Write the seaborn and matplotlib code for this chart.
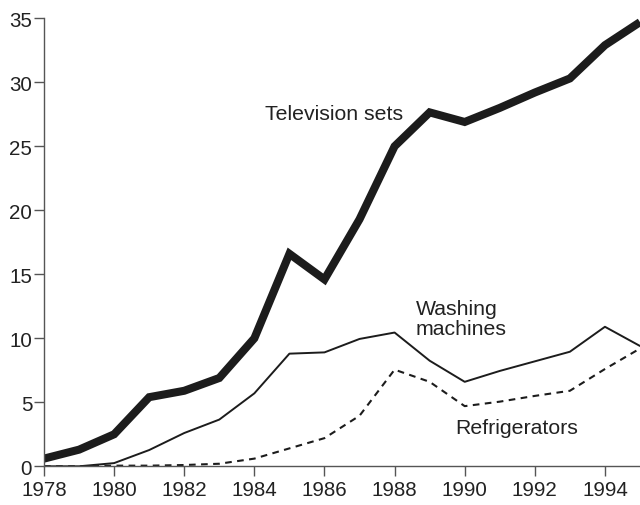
import matplotlib
matplotlib.use("Agg")
import matplotlib.pyplot as plt
import seaborn as sns
import pandas as pd

years = list(range(1978, 1996))
television_sets = [0.6, 1.3, 2.5, 5.4, 5.9, 6.9, 10.0, 16.6, 14.6, 19.3, 25.0, 27.65, 26.9, 28.0, 29.2, 30.3, 32.9, 34.7]
washing_machines = [0.0, 0.0, 0.25, 1.27, 2.6, 3.65, 5.7, 8.8, 8.9, 9.95, 10.45, 8.25, 6.6, 7.45, 8.2, 8.95, 10.9, 9.4]
refrigerators = [0.0, 0.0, 0.05, 0.05, 0.1, 0.2, 0.6, 1.4, 2.2, 3.95, 7.55, 6.6, 4.7, 5.05, 5.5, 5.9, 7.6, 9.2]
x_ticks = list(range(1978, 1995, 2))
y_ticks = [0, 5, 10, 15, 20, 25, 30, 35]

sns.set_style("white")
plt.rcParams["font.family"] = ["Liberation Sans", "DejaVu Sans"]

df = pd.DataFrame({
    "year": years,
    "Television sets": television_sets,
    "Washing machines": washing_machines,
    "Refrigerators": refrigerators,
})

fig = plt.figure(figsize=(6.4, 5.06), dpi=100)
ax = fig.add_axes([44 / 640, 1 - 467.3 / 506, 1 - 44 / 640, (467.3 - 19.3) / 506])

line_col = "#1c1c1c"
sns.lineplot(data=df, x="year", y="Television sets", ax=ax, color=line_col, linewidth=5.8,
             solid_joinstyle="miter", solid_capstyle="butt")
sns.lineplot(data=df, x="year", y="Washing machines", ax=ax, color=line_col, linewidth=1.4)
sns.lineplot(data=df, x="year", y="Refrigerators", ax=ax, color=line_col, linewidth=1.5,
             linestyle=(0, (3.2, 2.6)))

ax.set_xlim(1978, 1995)
ax.set_ylim(0, 35)
ax.set_xticks(x_ticks)
ax.set_yticks(y_ticks)
ax.set_xlabel("")
ax.set_ylabel("")

for side in ["top", "right"]:
    ax.spines[side].set_visible(False)
for side in ["left", "bottom"]:
    ax.spines[side].set_color("#555555")
    ax.spines[side].set_linewidth(1.0)

ax.tick_params(axis="both", direction="out", length=7, width=1.0, color="#555555",
               labelsize=14.8, labelcolor="#222222", left=True, bottom=True)
ax.tick_params(axis="x", pad=2.7)
ax.tick_params(axis="y", pad=1.5)

txt_col = "#222222"
fs = 15.3
ax.text(1984.29, 27.53, "Television sets", fontsize=fs, color=txt_col, ha="left", va="center")
ax.text(1988.6, 11.55, "Washing\nmachines", fontsize=fs, color=txt_col, ha="left", va="center",
        linespacing=1.12)
ax.text(1989.72, 3.05, "Refrigerators", fontsize=fs, color=txt_col, ha="left", va="center")

fig.savefig("out.png", dpi=100)
